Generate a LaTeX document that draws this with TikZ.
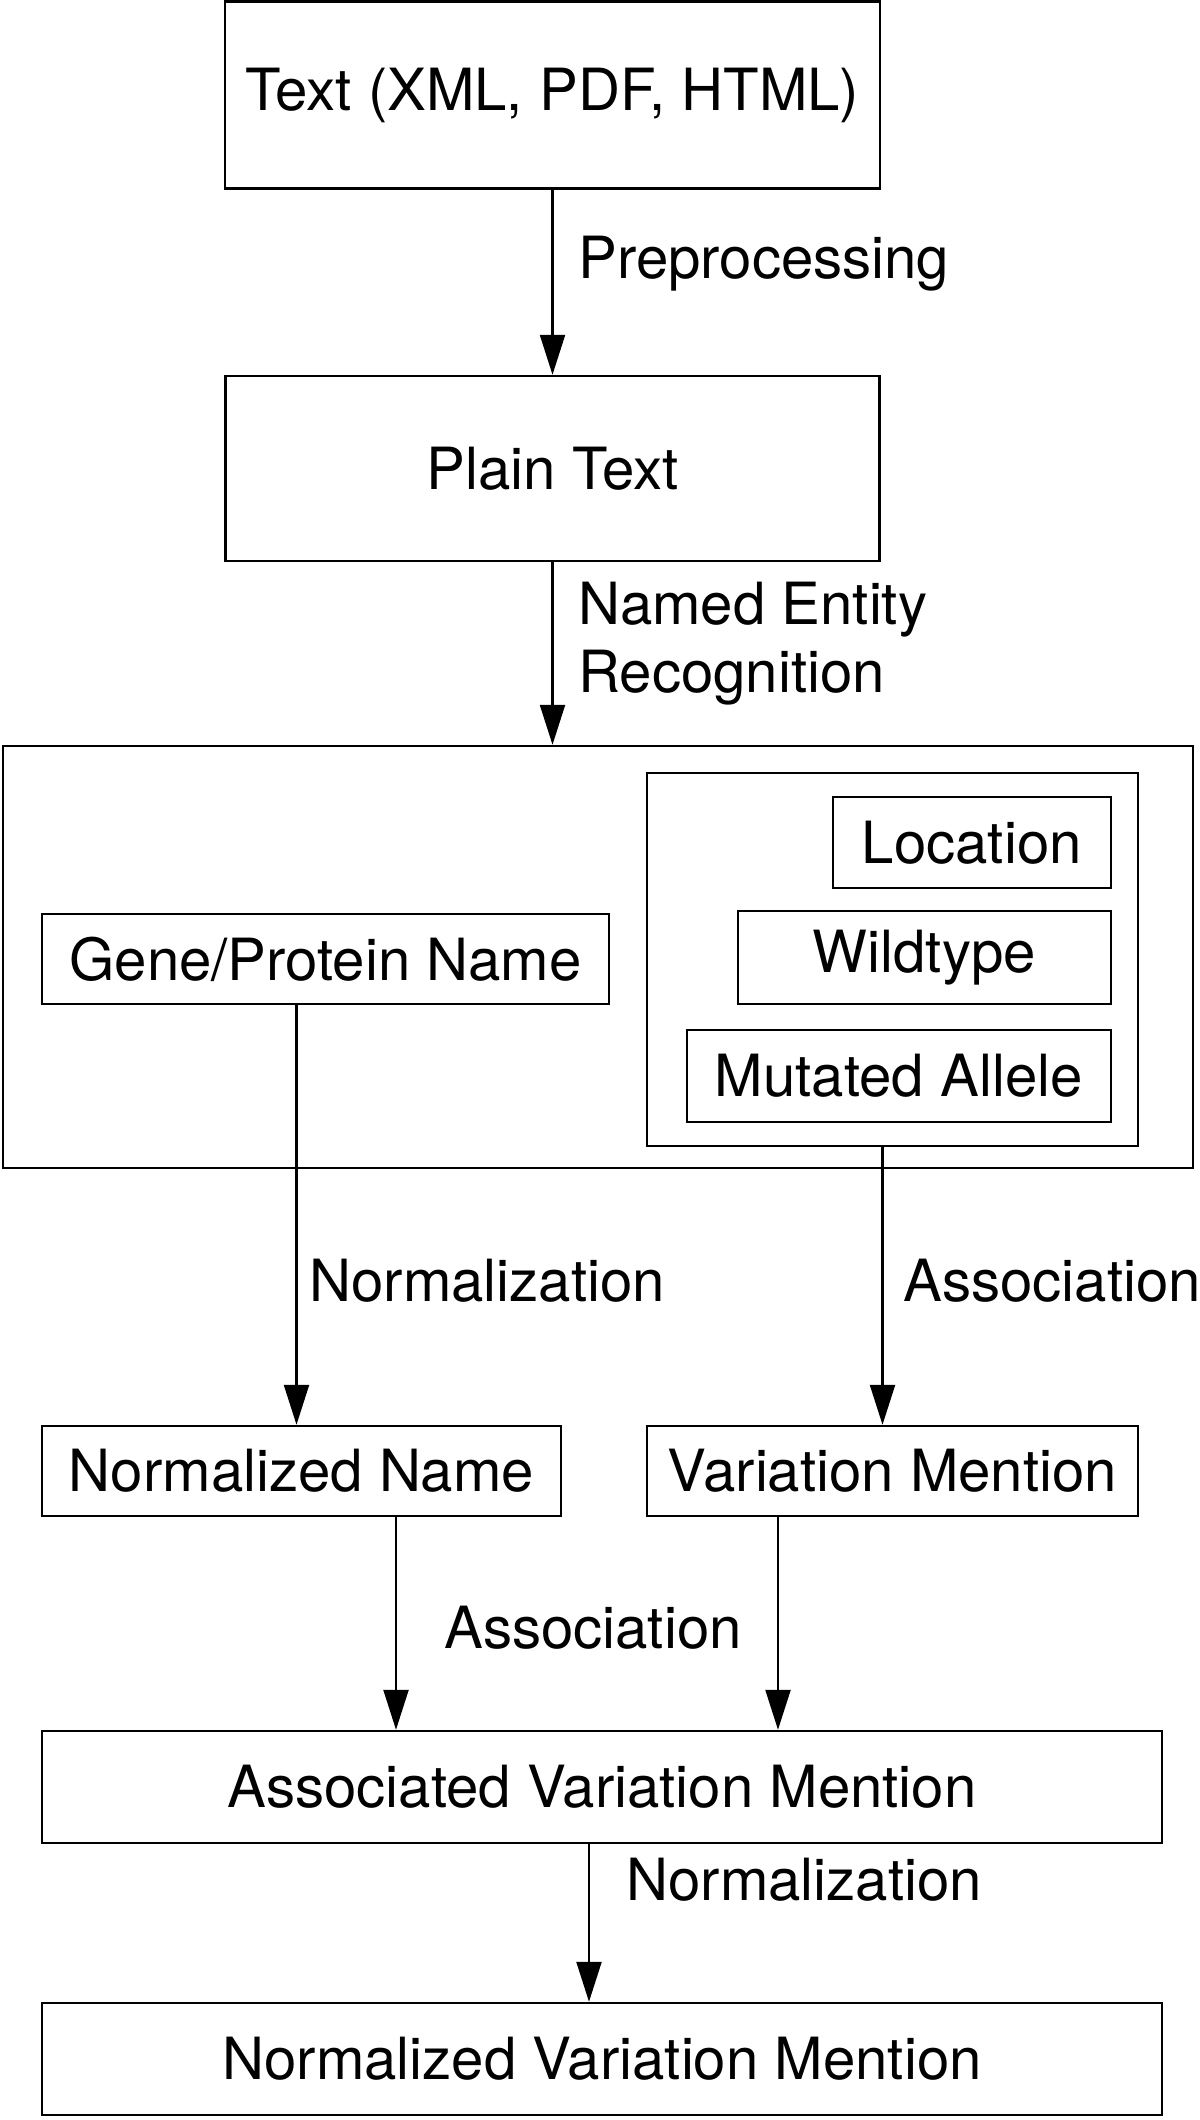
\documentclass[tikz,border=0pt]{standalone}
\usepackage{fontspec}
\setmainfont{TeX Gyre Heros}
\usetikzlibrary{arrows.meta,positioning}

\begin{document}
\begin{tikzpicture}[
    font=\fontsize{33.1}{38.5}\selectfont,
    box/.style={draw, line width=1.4pt, inner sep=0pt},
    lbl/.style={inner sep=0pt, anchor=west, align=left},
    flow/.style={line width=1.3pt, -{Triangle[length=0.8cm, width=0.5cm]}}
  ]
    \useasboundingbox (0,0) rectangle (24,-42.4);
    % Input and preprocessing
    \node[box, minimum width=13.1cm, minimum height=3.74cm] (src) at (11.05,-1.9)
         {Text (XML, PDF, HTML)};
    \node[box, minimum width=13.08cm, minimum height=3.7cm] (plain) at (11.05,-9.37)
         {Plain Text};
    % Named entity recognition
    \node[box, minimum width=23.8cm, minimum height=8.44cm] (ner) at (11.96,-19.14) {};
    \node[box, minimum width=9.82cm, minimum height=7.46cm] (mut) at (17.85,-19.19) {};
    \node[box, anchor=east, minimum width=5.56cm, minimum height=1.82cm] (loc)
         at (22.24,-16.85) {Location};
    \node[box, anchor=east, minimum width=7.46cm, minimum height=1.86cm] (wild)
         at (22.24,-19.15) {Wildtype};
    \node[box, anchor=east, minimum width=8.48cm, minimum height=1.84cm] (allele)
         at (22.24,-21.52) {Mutated Allele};
    \node[box, minimum width=11.34cm, minimum height=1.8cm] (gene) at (6.51,-19.18)
         {Gene/Protein Name};
    % Normalization and association
    \node[box, minimum width=10.38cm, minimum height=1.8cm] (normname) at (6.03,-29.42)
         {Normalized Name};
    \node[box, minimum width=9.82cm, minimum height=1.8cm] (varmen) at (17.85,-29.42)
         {Variation Mention};
    \node[box, minimum width=22.4cm, minimum height=2.24cm] (assoc) at (12.04,-35.74)
         {Associated Variation Mention};
    \node[box, minimum width=22.4cm, minimum height=2.24cm] (normvar) at (12.04,-41.18)
         {Normalized Variation Mention};
    % Arrows
    \draw[flow] (src.south) -- (plain.north);
    \draw[flow] (plain.south) -- (plain.south |- ner.north);
    \draw[flow] ([xshift=-0.1cm]normname.north |- gene.south) -- ([xshift=-0.1cm]normname.north);
    \draw[flow] ([xshift=-0.2cm]mut.south) -- ([xshift=-0.2cm]varmen.north);
    \draw[flow] ([xshift=1.89cm]normname.south) -- ([xshift=1.89cm]normname.south |- assoc.north);
    \draw[flow] ([xshift=-2.29cm]varmen.south) -- ([xshift=-2.29cm]varmen.south |- assoc.north);
    \draw[flow] ([xshift=-0.26cm]assoc.south) -- ([xshift=-0.26cm]normvar.north);
    % Arrow labels
    \node[lbl] (prep) at (11.56,-5.28) {Preprocessing};
    \node[lbl] (nerlbl) at (11.56,-12.87) {Named Entity\\Recognition};
    \node[lbl] (normlbl) at (6.18,-25.62) {Normalization};
    \node[lbl] (assoclbl) at (18.06,-25.62) {Association};
    \node[inner sep=0pt] (assoclbl2) at (11.86,-32.56) {Association};
    \node[lbl] (normlbl2) at (12.52,-37.6) {Normalization};
\end{tikzpicture}
\end{document}
